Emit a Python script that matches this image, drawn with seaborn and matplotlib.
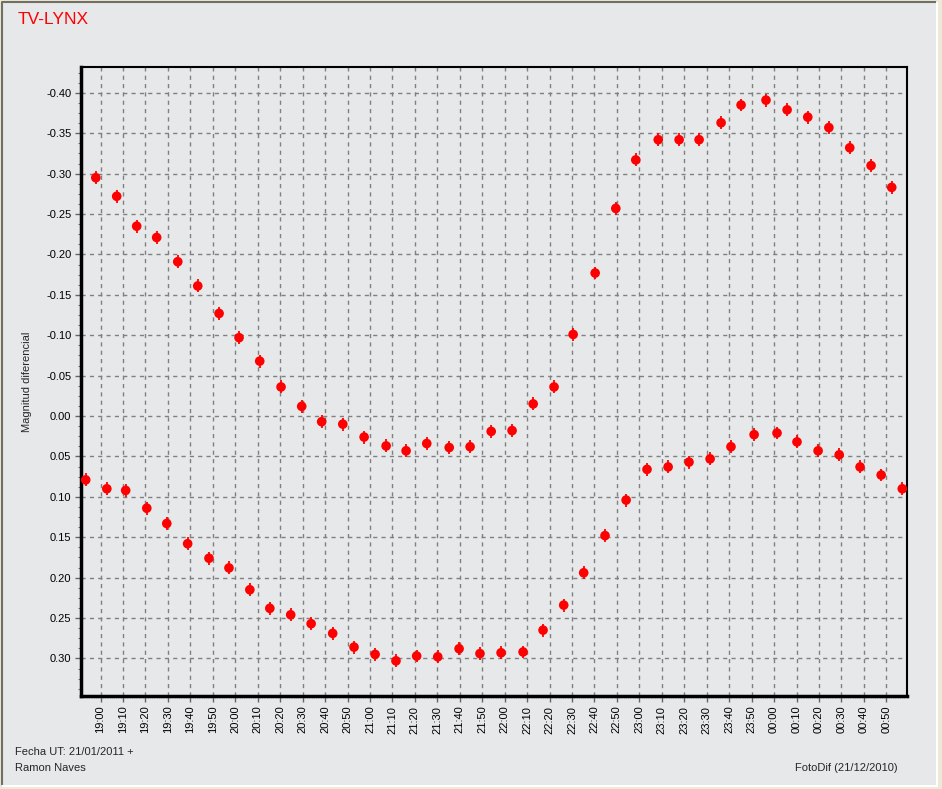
import numpy as np
import pandas as pd
import matplotlib
matplotlib.use("Agg")
import matplotlib.pyplot as plt
from matplotlib.ticker import MultipleLocator, FixedLocator
from matplotlib.patches import Rectangle
from matplotlib.lines import Line2D
import seaborn as sns

# minutos desde las 19:00 UT y magnitud diferencial de cada serie
min_serie_a = [-2.1, 7.2, 16.1, 25.0, 34.4, 43.3, 52.8, 61.7, 70.9, 80.4,
               89.6, 98.5, 107.9, 117.4, 127.2, 136.1, 145.3, 155.3, 164.6, 174.0,
               183.3, 192.7, 202.0, 210.5, 220.3, 229.5, 238.4, 248.4, 257.7, 266.6,
               276.4, 285.3, 296.4, 305.8, 315.0, 324.4, 333.7, 343.2, 352.4]
mag_serie_a = [-0.295, -0.272, -0.235, -0.221, -0.191, -0.161, -0.127, -0.097, -0.068, -0.036,
               -0.012, 0.007, 0.010, 0.026, 0.037, 0.043, 0.034, 0.039, 0.038, 0.019,
               0.018, -0.015, -0.036, -0.101, -0.177, -0.257, -0.317, -0.342, -0.342, -0.342,
               -0.363, -0.385, -0.391, -0.379, -0.370, -0.357, -0.332, -0.310, -0.283]

min_serie_b = [-6.6, 2.8, 11.2, 20.6, 29.5, 38.8, 48.3, 57.2, 66.5, 75.4,
               84.7, 93.8, 103.4, 112.9, 122.3, 131.6, 140.8, 150.2, 159.7, 169.0,
               178.4, 188.2, 197.1, 206.3, 215.2, 224.7, 234.1, 243.4, 252.8, 262.1,
               271.5, 280.8, 291.1, 301.3, 310.2, 319.6, 329.0, 338.3, 347.7, 357.1]
mag_serie_b = [0.079, 0.090, 0.092, 0.114, 0.133, 0.158, 0.176, 0.188, 0.215, 0.238,
               0.246, 0.257, 0.269, 0.286, 0.295, 0.303, 0.297, 0.298, 0.288, 0.294,
               0.293, 0.292, 0.265, 0.234, 0.194, 0.148, 0.104, 0.066, 0.063, 0.057,
               0.053, 0.038, 0.023, 0.021, 0.032, 0.043, 0.048, 0.063, 0.073, 0.090]

error = 0.008

horas = ["19:00", "19:10", "19:20", "19:30", "19:40", "19:50",
         "20:00", "20:10", "20:20", "20:30", "20:40", "20:50",
         "21:00", "21:10", "21:20", "21:30", "21:40", "21:50",
         "22:00", "22:10", "22:20", "22:30", "22:40", "22:50",
         "23:00", "23:10", "23:20", "23:30", "23:40", "23:50",
         "00:00", "00:10", "00:20", "00:30", "00:40", "00:50"]
y_ticks = [-0.40, -0.35, -0.30, -0.25, -0.20, -0.15, -0.10, -0.05,
           0.00, 0.05, 0.10, 0.15, 0.20, 0.25, 0.30]

df = pd.concat([
    pd.DataFrame({"t": min_serie_a, "mag": mag_serie_a, "serie": "A"}),
    pd.DataFrame({"t": min_serie_b, "mag": mag_serie_b, "serie": "B"}),
], ignore_index=True)

sns.set_style("white")
plt.rcParams["font.family"] = ["Liberation Sans", "DejaVu Sans"]

fondo = "#e7e8ea"
marco = "#ece9d8"
fig = plt.figure(figsize=(9.42, 7.89), dpi=100, facecolor=marco)

# marco de la ventana (coordenadas en pixeles), por debajo de los ejes
fig.patches.append(Rectangle((2, 3), 935, 784, transform=None,
                             facecolor=fondo, edgecolor="none", zorder=-3))
fig.lines.append(Line2D([2, 2, 937], [3, 787, 787], transform=None,
                        color="#716f64", linewidth=1.5, zorder=-2))
fig.lines.append(Line2D([2, 937, 937], [3, 3, 787], transform=None,
                        color="white", linewidth=1.5, zorder=-2))

ax = fig.add_axes([81 / 942, 1 - 696 / 789, 826 / 942, 629 / 789])
ax.set_facecolor(fondo)

# barras de error verticales
ax.errorbar(df["t"], df["mag"], yerr=error, fmt="none", ecolor="#ff0000",
            elinewidth=1.3, capsize=0, zorder=3)
sns.scatterplot(data=df, x="t", y="mag", color="#ff0000", marker="o", s=48,
                edgecolor="none", legend=False, ax=ax, zorder=4)

ax.set_xlim(-8.7, 359.2)
ax.set_ylim(0.3465, -0.432)

ax.xaxis.set_major_locator(FixedLocator(np.arange(len(horas)) * 10))
ax.set_xticklabels(horas, rotation=90, fontsize=8)
ax.xaxis.set_minor_locator(MultipleLocator(1))
ax.set_yticks(y_ticks)
ax.set_yticklabels([f"{v:.2f}" for v in y_ticks], fontsize=8)
ax.yaxis.set_minor_locator(MultipleLocator(0.0125))

ax.tick_params(axis="both", which="major", direction="out", length=4, width=1,
               color="#666666", labelcolor="black", pad=3,
               bottom=True, left=True)
ax.tick_params(axis="x", which="minor", direction="out", length=1.5, width=0.5,
               color="#999999", bottom=True)
ax.tick_params(axis="y", which="minor", direction="out", length=2, width=0.8,
               color="#777777", left=True)

ax.grid(True, which="major", linestyle=(0, (3, 3)), color="#808080", linewidth=1)
ax.set_axisbelow(True)

for lado in ["left", "bottom"]:
    ax.spines[lado].set_linewidth(2.5)
for lado in ["top", "right"]:
    ax.spines[lado].set_linewidth(1.5)
for s in ax.spines.values():
    s.set_color("black")

ax.set_xlabel("")
ax.set_ylabel("Magnitud diferencial", fontsize=8, labelpad=10)

fig.text(18 / 942, 1 - 20 / 789, "TV-LYNX", color="#ff0000", fontsize=12.5,
         ha="left", va="center")
fig.text(15 / 942, 1 - 752 / 789, "Fecha UT: 21/01/2011 +", fontsize=8,
         ha="left", va="center")
fig.text(15 / 942, 1 - 768 / 789, "Ramon Naves", fontsize=8,
         ha="left", va="center")
fig.text(898 / 942, 1 - 768 / 789, "FotoDif (21/12/2010)", fontsize=8,
         ha="right", va="center")

fig.savefig("out.png", dpi=100, facecolor=marco)
plt.close()
